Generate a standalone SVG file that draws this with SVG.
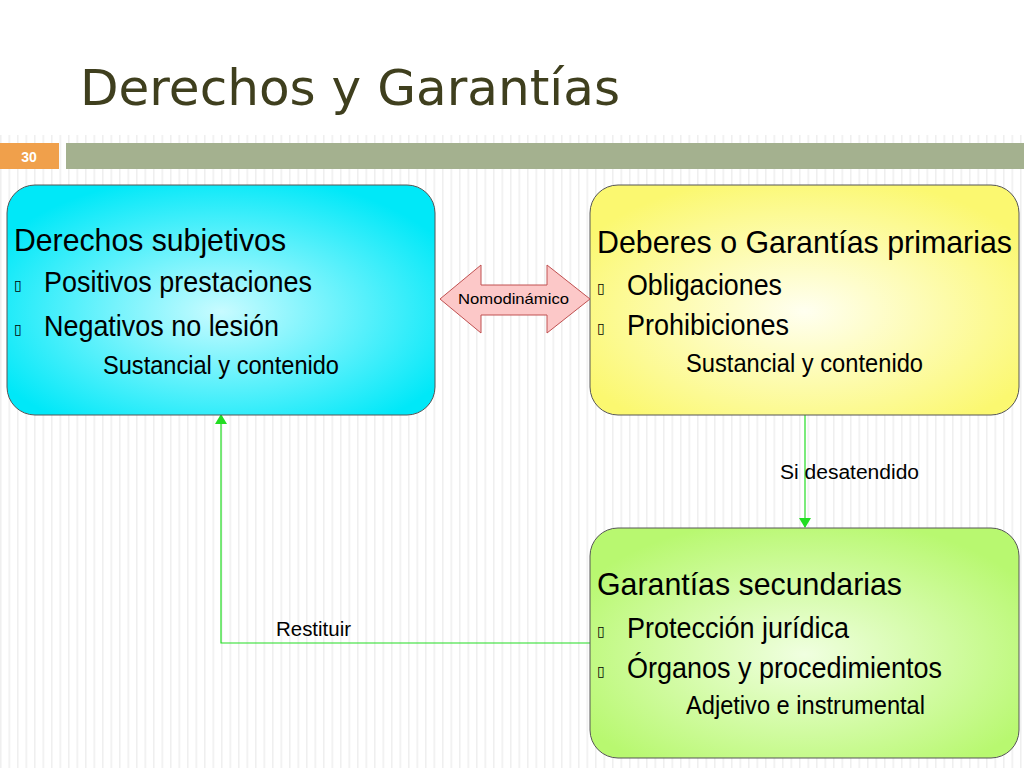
<svg xmlns="http://www.w3.org/2000/svg" width="1024" height="768" viewBox="0 0 1024 768">
<defs>
<pattern id="stripes" x="0" y="0" width="8.5" height="768" patternUnits="userSpaceOnUse"><rect width="8.5" height="768" fill="#fff"/><rect x="0" width="1.5" height="768" fill="#efefef"/></pattern>
<radialGradient id="gc" cx="0.5" cy="0.55" r="0.6"><stop offset="0" stop-color="#c8fbff"/><stop offset="1" stop-color="#00e8f8"/></radialGradient>
<radialGradient id="gy" cx="0.5" cy="0.55" r="0.6"><stop offset="0" stop-color="#fffff0"/><stop offset="1" stop-color="#fbf870"/></radialGradient>
<radialGradient id="gg" cx="0.5" cy="0.55" r="0.6"><stop offset="0" stop-color="#f0ffe0"/><stop offset="1" stop-color="#b8f870"/></radialGradient>
<marker id="ah" markerWidth="10" markerHeight="12" refX="9" refY="6" orient="auto" markerUnits="userSpaceOnUse"><path d="M0,0 L10,6 L0,12 z" fill="#22dd22"/></marker>
</defs>
<style>
.t{font-family:"Liberation Sans",Arial,sans-serif;fill:#000}
.h{font-size:32px}.b{font-size:29px}.s{font-size:25px}.l{font-size:20px}
.box{stroke:#555;stroke-width:1}
.k{font-size:14px}
</style>
<rect width="1024" height="768" fill="url(#stripes)"/>
<rect x="0" y="0" width="1024" height="135" fill="#fff"/>
<text x="80" y="105" font-family="'DejaVu Sans',sans-serif" font-size="50" fill="#3f3f1e" textLength="540" lengthAdjust="spacingAndGlyphs">Derechos y Garantías</text>
<rect x="0" y="143" width="59" height="26" fill="#f0a04b"/>
<text x="29" y="162" text-anchor="middle" font-family="'Liberation Sans',sans-serif" font-weight="bold" font-size="14" fill="#fff">30</text>
<rect x="66" y="143" width="958" height="26" fill="#a4b18f"/>
<g id="connectors" fill="none" stroke="#22dd22" stroke-width="1.2">
<path d="M805,415 V527" marker-end="url(#ah)"/>
<path d="M590,643 H221 V415" marker-end="url(#ah)"/>
</g>
<text class="t l" x="780" y="479" textLength="139" lengthAdjust="spacingAndGlyphs">Si  desatendido</text>
<text class="t l" x="276" y="636" textLength="75" lengthAdjust="spacingAndGlyphs">Restituir</text>
<g id="n1"><rect class="box" x="7" y="185" width="428" height="230" rx="28" fill="url(#gc)"/>
<text class="t h" x="14" y="251" textLength="272" lengthAdjust="spacingAndGlyphs">Derechos subjetivos</text>
<text class="t k" x="14" y="290">▯</text><text class="t b" x="44" y="292" textLength="268" lengthAdjust="spacingAndGlyphs">Positivos prestaciones</text>
<text class="t k" x="14" y="334">▯</text><text class="t b" x="44" y="336" textLength="235" lengthAdjust="spacingAndGlyphs">Negativos no lesión</text>
<text class="t s" x="103" y="374" textLength="236" lengthAdjust="spacingAndGlyphs">Sustancial y contenido</text></g>
<g id="n2"><rect class="box" x="590" y="185" width="429" height="230" rx="28" fill="url(#gy)"/>
<text class="t h" x="597" y="253" textLength="415" lengthAdjust="spacingAndGlyphs">Deberes o Garantías primarias</text>
<text class="t k" x="597" y="293">▯</text><text class="t b" x="627" y="295" textLength="155" lengthAdjust="spacingAndGlyphs">Obligaciones</text>
<text class="t k" x="597" y="333">▯</text><text class="t b" x="627" y="335" textLength="162" lengthAdjust="spacingAndGlyphs">Prohibiciones</text>
<text class="t s" x="686" y="372" textLength="237" lengthAdjust="spacingAndGlyphs">Sustancial y contenido</text></g>
<g id="n3"><rect class="box" x="590" y="528" width="429" height="230" rx="28" fill="url(#gg)"/>
<text class="t h" x="597" y="595" textLength="305" lengthAdjust="spacingAndGlyphs">Garantías secundarias</text>
<text class="t k" x="597" y="636">▯</text><text class="t b" x="627" y="638" textLength="222" lengthAdjust="spacingAndGlyphs">Protección jurídica</text>
<text class="t k" x="597" y="676">▯</text><text class="t b" x="627" y="678" textLength="315" lengthAdjust="spacingAndGlyphs">Órganos y procedimientos</text>
<text class="t s" x="686" y="714" textLength="239" lengthAdjust="spacingAndGlyphs">Adjetivo e instrumental</text></g>
<g id="n4"><path d="M440,299 L481,265 V285 H547 V265 L590,299 L547,333 V315 H481 V333 Z" fill="#fcc8c8" stroke="#c05050" stroke-width="1"/>
<text class="t" x="458" y="304" font-size="15" textLength="111" lengthAdjust="spacingAndGlyphs">Nomodinámico</text></g>
</svg>
